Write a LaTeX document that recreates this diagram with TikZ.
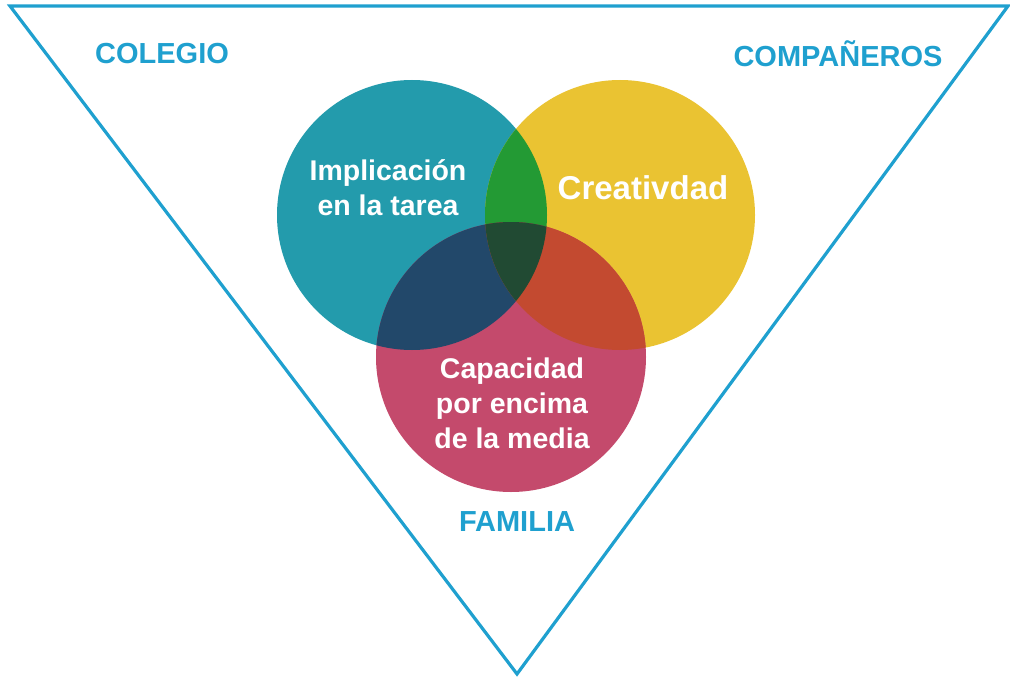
\documentclass[tikz,border=0pt]{standalone}
\usepackage{fontspec}
\setmainfont{Liberation Sans}
\definecolor{tri}{HTML}{1FA0CF}
\definecolor{cteal}{HTML}{239BAC}
\definecolor{cyel}{HTML}{EAC332}
\definecolor{cpink}{HTML}{C44A6C}
\definecolor{cgreen}{HTML}{239A34}
\definecolor{cnavy}{HTML}{22486A}
\definecolor{cred}{HTML}{C34A30}
\definecolor{cmid}{HTML}{214A33}
\begin{document}
\begin{tikzpicture}[x=1pt,y=-1pt,
  corner/.style={text=tri,font=\bfseries\fontsize{29}{31}\selectfont},
  intext/.style={text=white,align=center,font=\bfseries\fontsize{28.5}{35}\selectfont}]
\useasboundingbox (0,0) rectangle (1010,677);
\coordinate (T) at (412,215);
\coordinate (Y) at (620,215);
\coordinate (P) at (511,357);
\def\R{135}
% triangle
\coordinate (tl) at (10,6);
\coordinate (tr) at (1008,6);
\coordinate (ap) at (517,674);
\draw[tri,line width=3.2pt,line join=miter] (tl) -- (tr) -- (ap) -- cycle;
% circles
\fill[cteal] (T) circle (\R);
\fill[cyel] (Y) circle (\R);
\fill[cpink] (P) circle (\R);
\begin{scope}\clip (T) circle (\R); \fill[cgreen] (Y) circle (\R); \end{scope}
\begin{scope}\clip (T) circle (\R); \fill[cnavy] (P) circle (\R); \end{scope}
\begin{scope}\clip (Y) circle (\R); \fill[cred] (P) circle (\R); \end{scope}
\begin{scope}\clip (T) circle (\R); \clip (Y) circle (\R); \fill[cmid] (P) circle (\R); \end{scope}
% labels
\node[corner] (colegio) at (162,54) {COLEGIO};
\node[corner] (comp) at (838,54) {COMPAÑEROS};
\node[corner] (fam) at (517,522) {FAMILIA};
\node[intext] (impl) at (388,188) {Implicación\\en la tarea};
\node[intext,font=\bfseries\fontsize{33}{38}\selectfont] (crea) at (643,188) {Creativdad};
\node[intext] (capa) at (512,403) {Capacidad\\por encima\\de la media};
\end{tikzpicture}
\end{document}
